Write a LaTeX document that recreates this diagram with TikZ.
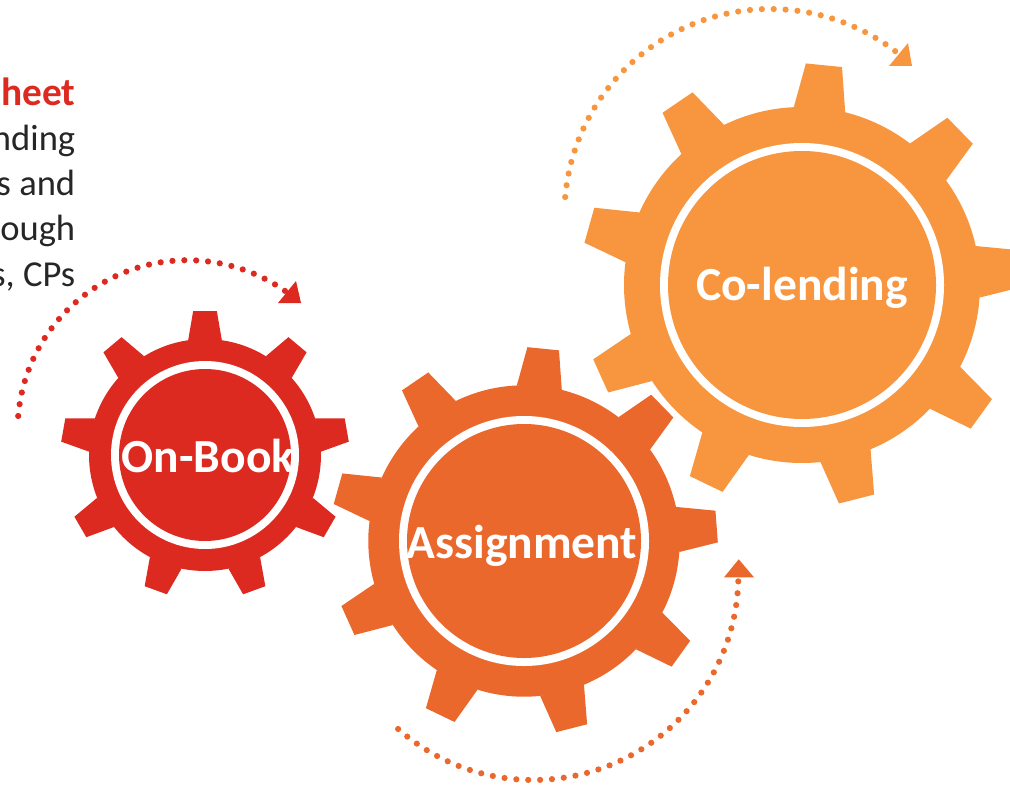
\documentclass[tikz,border=0pt]{standalone}
\usepackage{fontspec}
\setmainfont{Carlito}
\usepackage{xcolor}
\definecolor{bookred}{HTML}{DC2A21}
\definecolor{assignorange}{HTML}{EB682D}
\definecolor{lendorange}{HTML}{F7963F}
\definecolor{bodygrey}{HTML}{262626}
\tikzset{
	geartext/.style={anchor=base, inner sep=0pt, white, font=\fontsize{33.8}{36}\selectfont\bfseries},
	sidetext/.style={anchor=base east, inner sep=0pt, bodygrey, font=\fontsize{26}{28}\selectfont},
	sidehead/.style={anchor=base east, inner sep=0pt, bookred, font=\fontsize{28}{30}\selectfont\bfseries},
	dotarc/.style={line width=4.4pt, line cap=round, dash pattern=on 0pt off 8.45pt}
}
% centre, body radius, first tooth angle, colour, ring outer and inner radius
\newcommand{\drawgear}[6]{
	\begin{scope}[shift={(#1)}]
		\fill [#4] (0,0) circle (#2);
		\foreach \n [evaluate=\n as \t using #3+40*\n] in {0,...,8}
			\fill [#4] (\t+8.35:#2) -- (\t+4.7:1.245*#2) -- (\t-4.7:1.245*#2) -- (\t-8.35:#2) -- cycle;
		\fill [white] (0,0) circle (#5);
		\fill [#4] (0,0) circle (#6);
	\end{scope}
}

\begin{document}
\begin{tikzpicture}[x=0.025cm, y=0.025cm]
	\useasboundingbox (0,0) rectangle (1010,785);

	\node [sidehead] (sheethead) at (75.5,679) {heet};
	\node [sidetext] (lineone) at (75.5,634) {nding};
	\node [sidetext] (linetwo) at (75.5,589) {s and};
	\node [sidetext] (linethree) at (75.5,544) {ough};
	\node [sidetext] (linefour) at (75.5,499) {s, CPs};

	\drawgear{205,330}{116}{90}{bookred}{94}{86}
	\drawgear{524,244}{155.7}{84.3}{assignorange}{125}{117}
	\drawgear{802,500}{178}{84.3}{lendorange}{142}{134}

	\node [geartext] (onbook) at (208,312.5) {On-Book};
	\node [geartext] (assignment) at (522,227) {Assignment};
	\node [geartext] (colending) at (802,485) {Co-lending};

	% red arc
	\draw [dotarc, bookred] (187.6,354.8) ++(175.2:170) arc [start angle=175.2, end angle=54.3, radius=170];
	\fill [bookred] (296,504) -- (301,482) -- (278,482) -- cycle;

	% dark orange arc
	\draw [dotarc, assignorange] (533.4,210) ++(228.7:205) arc [start angle=228.7, end angle=359.4, radius=205];
	\fill [assignorange] (738.7,225.7) -- (754,207.7) -- (724,207.7) -- cycle;

	% light orange arc
	\draw [dotarc, lendorange] (770.4,570) ++(175:206) arc [start angle=175, end angle=51.5, radius=206];
	\fill [lendorange] (908,742) -- (912,719) -- (889,719) -- cycle;
\end{tikzpicture}
\end{document}
